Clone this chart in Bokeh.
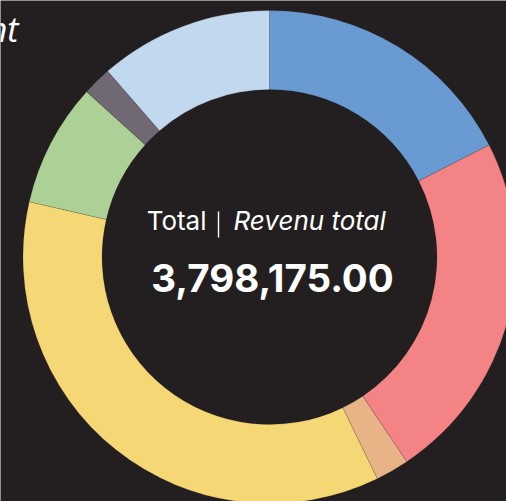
import math
from bokeh.plotting import figure
from bokeh.models import Range1d, ColumnDataSource
from bokeh.core.properties import value
from bokeh.embed import file_html
from bokeh.resources import INLINE

# ---- data ----
categories = ["Catégorie A", "Catégorie B", "Catégorie C", "Catégorie D",
              "Catégorie E", "Catégorie F", "Catégorie G"]
values = [664700, 877400, 83500, 1359700, 307600, 72200, 433075]
colors = ["#6A9AD2", "#F38385", "#E7B387", "#F6D776", "#ACD095", "#706873", "#C1D8EE"]
title_text = "Montant"
center_label_left = "Total"
center_label_right = "Revenu total"

BG = "#231F20"
W, H = 506, 501

p = figure(width=W, height=H, output_backend="svg", toolbar_location=None,
           x_range=Range1d(0, W), y_range=Range1d(0, H),
           min_border=0, background_fill_color=BG, border_fill_color=BG)
p.axis.visible = False
p.grid.visible = False
p.outline_line_color = None

def sy(y):
    return H - y

cx, cy = 269, sy(256.5)
total = sum(values)
starts, ends = [], []
acc = 0.0
for v in values:
    a = acc / total * 2 * math.pi
    acc += v
    b = acc / total * 2 * math.pi
    # clockwise from 12 o'clock -> bokeh ccw from +x
    starts.append(math.pi / 2 - b)
    ends.append(math.pi / 2 - a)

src = ColumnDataSource(dict(cat=categories, val=values, color=colors,
                            start=starts, end=ends))
p.annular_wedge(x=cx, y=cy, inner_radius=167.5, outer_radius=246.5,
                start_angle="start", end_angle="end", fill_color="color",
                line_color=BG, line_alpha=0.25, line_width=0.6, source=src)

# title (cropped at the left edge, as in the reference)
p.text(x=[18], y=[sy(28)], text=[title_text], text_font=value("Open Sans"),
       text_font_size="34px", text_font_style="italic", text_color="white",
       text_align="right", text_baseline="alphabetic")

# center labels
p.text(x=[206], y=[sy(220)], text=[center_label_left], text_font=value("Inter"),
       text_font_size="26px", text_color="white", text_align="right",
       text_baseline="alphabetic")
p.segment(x0=[218], y0=[sy(211)], x1=[218], y1=[sy(237)], line_color="white",
          line_width=1.4)
p.text(x=[233], y=[sy(220)], text=[center_label_right], text_font=value("Inter"),
       text_font_size="26px", text_font_style="italic", text_color="white",
       text_align="left", text_baseline="alphabetic")
p.text(x=[272], y=[sy(277)], text=[f"{total:,.2f}"], text_font=value("Inter"),
       text_font_size="38.5px", text_font_style="bold", text_color="white",
       text_align="center", text_baseline="alphabetic")

open("out.html", "w").write(file_html(p, INLINE))
